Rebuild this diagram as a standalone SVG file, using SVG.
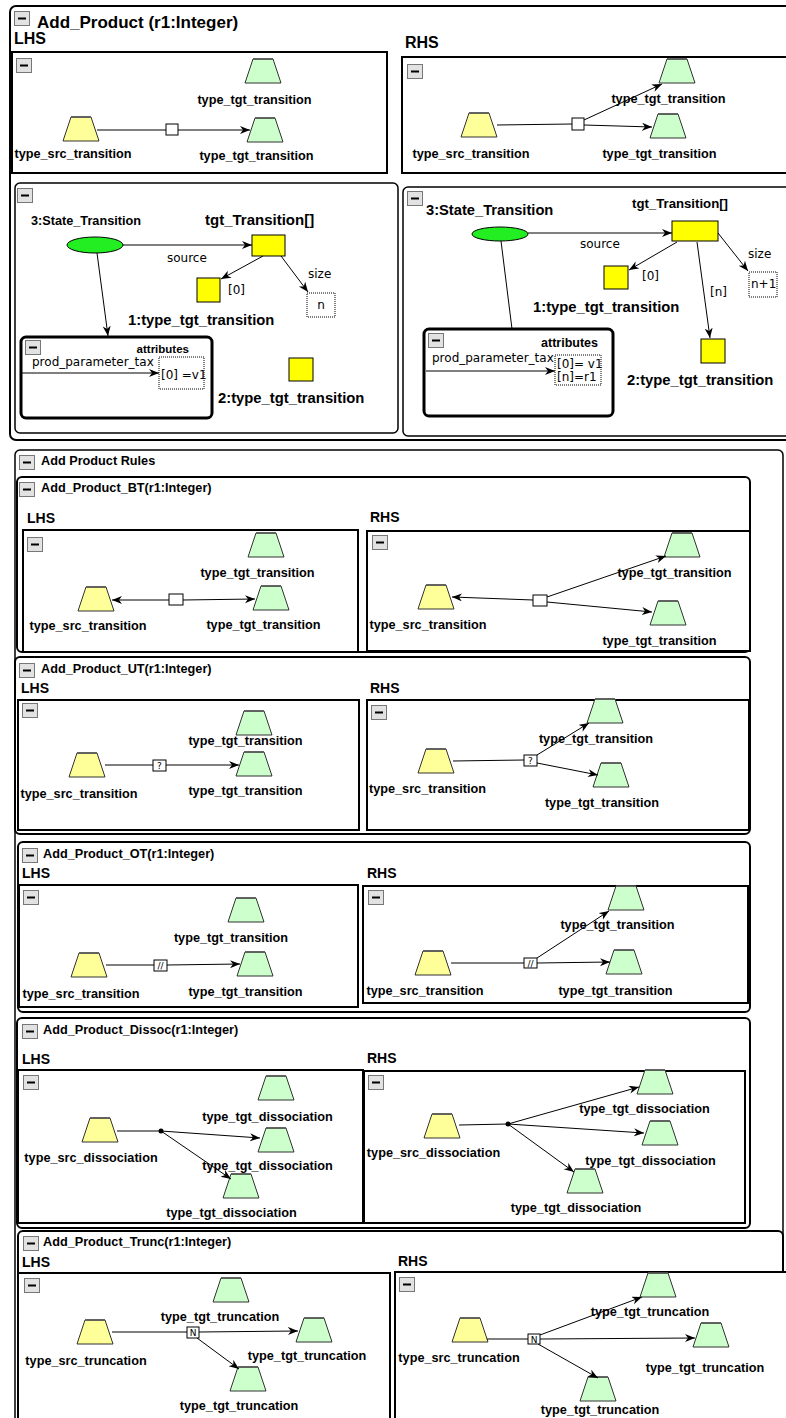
<svg xmlns="http://www.w3.org/2000/svg" width="786" height="1418" viewBox="0 0 786 1418">
  <style>
    .bg { fill: #fff; }
    .frame { fill: #fff; stroke: #000; stroke-width: 2; }
    .panel { fill: #fff; stroke: #000; stroke-width: 1.5; }
    .attr { fill: #fff; stroke: #000; stroke-width: 3; }
    .lbl { font-family: "Liberation Sans", Arial, sans-serif; font-weight: bold; font-size: 12.7px; fill: #000; text-anchor: middle; }
    .ttl { font-family: "Liberation Sans", Arial, sans-serif; font-weight: bold; font-size: 12.7px; fill: #000; }
    .side { font-family: "Liberation Sans", Arial, sans-serif; font-weight: bold; font-size: 14px; fill: #000; }
    .big { font-family: "Liberation Sans", Arial, sans-serif; font-weight: bold; fill: #000; }
    .reg { font-family: "DejaVu Sans", sans-serif; font-size: 12px; fill: #000; }
    .tiny { font-family: "DejaVu Sans", sans-serif; font-size: 9px; fill: #000; text-anchor: middle; }
    .edge { fill: none; stroke: #000; stroke-width: 1; }
    .arr { marker-end: url(#head); }
    .link { fill: #fff; stroke: #000; stroke-width: 1; }
    .dotted { fill: #fff; stroke: #000; stroke-width: 1; stroke-dasharray: 1 1; }
    .obj { fill: #ffff00; stroke: #000; stroke-width: 1; }
    .state { fill: #22ee22; stroke: #000; stroke-width: 1; }
  </style>
  <defs>
    <marker id="head" markerUnits="userSpaceOnUse" markerWidth="12" markerHeight="10" refX="10" refY="4" orient="auto">
      <path d="M0,0 L10,4 L0,8 L3,4 Z" fill="#000"/>
    </marker>
    <g id="tg">
      <polygon points="8,0 28,0 36,24 0,24" fill="#ccffcc" stroke="#333" stroke-width="1"/>
      <line x1="8" y1="0" x2="28" y2="0" stroke="#555" stroke-width="1.6"/>
    </g>
    <g id="ty">
      <polygon points="8,0 28,0 36,24 0,24" fill="#ffff99" stroke="#333" stroke-width="1"/>
      <line x1="8" y1="0" x2="28" y2="0" stroke="#555" stroke-width="1.6"/>
    </g>
    <g id="minus">
      <rect x="0.5" y="0.5" width="15" height="14" fill="#e2e2e2" stroke="#777" stroke-width="1"/>
      <rect x="4" y="6.5" width="8" height="2" fill="#000"/>
    </g>
  </defs>

  <rect class="bg" x="0" y="0" width="786" height="1418"/>

  <!-- ===== Add_Product rule ===== -->
  <g id="add-product">
    <rect class="frame" x="10" y="6" width="800" height="434" rx="6"/>
    <use href="#minus" x="14" y="11"/>
    <text class="big" x="37" y="28" font-size="17">Add_Product (r1:Integer)</text>
    <text class="big" x="14" y="44" font-size="16">LHS</text>
    <text class="big" x="405" y="48" font-size="16">RHS</text>
    <rect class="frame" x="12" y="52" width="375" height="121"/>
    <use href="#minus" x="16" y="58"/>
    <rect class="frame" x="402" y="57" width="400" height="116"/>
    <use href="#minus" x="407" y="64"/>
  </g>

  <g id="a-lhs-tgt1"><use href="#tg" x="245" y="59"/><text class="lbl" x="254.5" y="104">type_tgt_transition</text></g>
  <g id="a-lhs-src"><use href="#ty" x="63" y="117"/><text class="lbl" x="73" y="158">type_src_transition</text></g>
  <g id="a-lhs-tgt2"><use href="#tg" x="247" y="118"/><text class="lbl" x="256.5" y="160">type_tgt_transition</text></g>

  <g id="a-rhs-src"><use href="#ty" x="461" y="113"/><text class="lbl" x="471" y="158">type_src_transition</text></g>
  <g id="a-rhs-tgt1"><use href="#tg" x="659" y="59"/><text class="lbl" x="668.5" y="103">type_tgt_transition</text></g>
  <g id="a-rhs-tgt2"><use href="#tg" x="650" y="114"/><text class="lbl" x="659.5" y="158">type_tgt_transition</text></g>

  <!-- state panels -->
  <g id="state-lhs">
    <rect class="panel" x="15" y="183" width="383" height="250" rx="5"/>
    <use href="#minus" x="17" y="188"/>
  </g>
  <g id="state-lhs-transition">
    <ellipse class="state" cx="95" cy="245" rx="28" ry="8"/>
    <text class="big" x="31" y="225" font-size="12.7">3:State_Transition</text>
  </g>
  <g id="state-lhs-array">
    <rect class="obj" x="252" y="235" width="33" height="21"/>
    <text class="big" x="205" y="225" font-size="15">tgt_Transition[]</text>
  </g>
  <g id="state-lhs-obj1">
    <rect class="obj" x="197" y="278" width="23" height="24"/>
    <text class="big" x="128" y="325" font-size="14.8">1:type_tgt_transition</text>
  </g>
  <g id="state-lhs-size">
    <rect class="dotted" x="307" y="293" width="28" height="24"/>
    <text class="reg" x="321" y="309" text-anchor="middle">n</text>
  </g>
  <g id="state-lhs-obj2">
    <rect class="obj" x="289" y="358" width="24" height="23"/>
    <text class="big" x="218" y="403" font-size="14.8">2:type_tgt_transition</text>
  </g>
  <g id="state-lhs-attributes">
    <rect class="attr" x="21" y="337" width="191" height="81" rx="5"/>
    <use href="#minus" x="25" y="340"/>
    <text class="big" x="189" y="353" font-size="11.5" text-anchor="end">attributes</text>
    <text class="reg" x="32" y="366" font-size="11.5">prod_parameter_tax</text>
    <rect class="dotted" x="159" y="357" width="45" height="32"/>
    <text class="reg" x="161" y="379" font-size="12.5">[0] =v1</text>
  </g>

  <g id="state-rhs">
    <rect class="panel" x="403" y="187" width="400" height="249" rx="5"/>
    <use href="#minus" x="407" y="191"/>
  </g>
  <g id="state-rhs-transition">
    <ellipse class="state" cx="500" cy="234" rx="28" ry="7"/>
    <text class="big" x="426" y="215" font-size="14.7">3:State_Transition</text>
  </g>
  <g id="state-rhs-array">
    <rect class="obj" x="672" y="221" width="46" height="20"/>
    <text class="big" x="632" y="208" font-size="13.2">tgt_Transition[]</text>
  </g>
  <g id="state-rhs-obj1">
    <rect class="obj" x="604" y="266" width="24" height="23"/>
    <text class="big" x="533" y="312" font-size="14.8">1:type_tgt_transition</text>
  </g>
  <g id="state-rhs-obj2">
    <rect class="obj" x="701" y="339" width="24" height="24"/>
    <text class="big" x="627" y="385" font-size="14.8">2:type_tgt_transition</text>
  </g>
  <g id="state-rhs-size">
    <rect class="dotted" x="749" y="272" width="28" height="25"/>
    <text class="reg" x="751" y="288">n+1</text>
  </g>
  <g id="state-rhs-attributes">
    <rect class="attr" x="424" y="329" width="189" height="87" rx="5"/>
    <use href="#minus" x="428" y="333"/>
    <text class="big" x="598" y="347" font-size="12.5" text-anchor="end">attributes</text>
    <text class="reg" x="432" y="362" font-size="11.5">prod_parameter_tax</text>
    <rect class="dotted" x="555" y="355" width="46" height="30"/>
    <text class="reg" x="557" y="368">[0]= v1</text>
    <text class="reg" x="557" y="381">[n]=r1</text>
  </g>

  <!-- ===== Add Product Rules ===== -->
  <g id="rules">
    <rect class="panel" x="15" y="450" width="768" height="1000" rx="5"/>
    <use href="#minus" x="19" y="455"/>
    <text class="ttl" x="41" y="465">Add Product Rules</text>
  </g>

  <!-- BT -->
  <g id="bt">
    <rect class="frame" x="17" y="477" width="733" height="175" rx="5"/>
    <use href="#minus" x="19" y="482"/>
    <text class="ttl" x="41" y="492">Add_Product_BT(r1:Integer)</text>
    <text class="side" x="27" y="523">LHS</text>
    <rect class="frame" x="23" y="530" width="335" height="122"/>
    <use href="#minus" x="27" y="537"/>
    <text class="side" x="370" y="522">RHS</text>
    <rect class="frame" x="367" y="531" width="383" height="120"/>
    <use href="#minus" x="372" y="535"/>
  </g>
  <g id="bt-lhs-tgt1"><use href="#tg" x="248" y="533"/><text class="lbl" x="257.5" y="577">type_tgt_transition</text></g>
  <g id="bt-lhs-src"><use href="#ty" x="78" y="587"/><text class="lbl" x="88" y="630">type_src_transition</text></g>
  <g id="bt-lhs-tgt2"><use href="#tg" x="253" y="586"/><text class="lbl" x="263.5" y="629">type_tgt_transition</text></g>
  <g id="bt-rhs-tgt1"><use href="#tg" x="664" y="533"/><text class="lbl" x="674.5" y="577">type_tgt_transition</text></g>
  <g id="bt-rhs-src"><use href="#ty" x="418" y="585"/><text class="lbl" x="428" y="629">type_src_transition</text></g>
  <g id="bt-rhs-tgt2"><use href="#tg" x="650" y="601"/><text class="lbl" x="659.5" y="645">type_tgt_transition</text></g>

  <!-- UT -->
  <g id="ut">
    <rect class="frame" x="15" y="657" width="735" height="177" rx="5"/>
    <use href="#minus" x="19" y="663"/>
    <text class="ttl" x="41" y="673">Add_Product_UT(r1:Integer)</text>
    <text class="side" x="21" y="693">LHS</text>
    <rect class="frame" x="18" y="700" width="341" height="130"/>
    <use href="#minus" x="22" y="703"/>
    <text class="side" x="370" y="693">RHS</text>
    <rect class="frame" x="367" y="700" width="382" height="130"/>
    <use href="#minus" x="371" y="705"/>
  </g>
  <g id="ut-lhs-tgt1"><use href="#tg" x="236" y="711"/><text class="lbl" x="245.5" y="745">type_tgt_transition</text></g>
  <g id="ut-lhs-src"><use href="#ty" x="69" y="753"/><text class="lbl" x="79" y="798">type_src_transition</text></g>
  <g id="ut-lhs-tgt2"><use href="#tg" x="236" y="752"/><text class="lbl" x="245.5" y="795">type_tgt_transition</text></g>
  <g id="ut-rhs-tgt1"><use href="#tg" x="587" y="699"/><text class="lbl" x="596" y="743">type_tgt_transition</text></g>
  <g id="ut-rhs-src"><use href="#ty" x="418" y="749"/><text class="lbl" x="427.5" y="793">type_src_transition</text></g>
  <g id="ut-rhs-tgt2"><use href="#tg" x="593" y="763"/><text class="lbl" x="602" y="807">type_tgt_transition</text></g>

  <!-- OT -->
  <g id="ot">
    <rect class="frame" x="18" y="842" width="732" height="170" rx="5"/>
    <use href="#minus" x="22" y="848"/>
    <text class="ttl" x="43" y="858">Add_Product_OT(r1:Integer)</text>
    <text class="side" x="22" y="878">LHS</text>
    <rect class="frame" x="19" y="885" width="339" height="122"/>
    <use href="#minus" x="23" y="890"/>
    <text class="side" x="367" y="878">RHS</text>
    <rect class="frame" x="363" y="886" width="385" height="117"/>
    <use href="#minus" x="368" y="890"/>
  </g>
  <g id="ot-lhs-tgt1"><use href="#tg" x="228" y="898"/><text class="lbl" x="231" y="942">type_tgt_transition</text></g>
  <g id="ot-lhs-src"><use href="#ty" x="71" y="953"/><text class="lbl" x="81" y="998">type_src_transition</text></g>
  <g id="ot-lhs-tgt2"><use href="#tg" x="237" y="952"/><text class="lbl" x="245.5" y="996">type_tgt_transition</text></g>
  <g id="ot-rhs-tgt1"><use href="#tg" x="608" y="886"/><text class="lbl" x="617.5" y="929">type_tgt_transition</text></g>
  <g id="ot-rhs-src"><use href="#ty" x="415" y="951"/><text class="lbl" x="425" y="995">type_src_transition</text></g>
  <g id="ot-rhs-tgt2"><use href="#tg" x="606" y="950"/><text class="lbl" x="615.5" y="995">type_tgt_transition</text></g>

  <!-- Dissoc -->
  <g id="dissoc">
    <rect class="frame" x="17" y="1018" width="733" height="210" rx="5"/>
    <use href="#minus" x="22" y="1024"/>
    <text class="ttl" x="43" y="1034">Add_Product_Dissoc(r1:Integer)</text>
    <text class="side" x="22" y="1064">LHS</text>
    <rect class="frame" x="18" y="1070" width="345" height="153"/>
    <use href="#minus" x="23" y="1075"/>
    <text class="side" x="367" y="1063">RHS</text>
    <rect class="frame" x="364" y="1071" width="381" height="152"/>
    <use href="#minus" x="368" y="1075"/>
  </g>
  <g id="dis-lhs-tgt1"><use href="#tg" x="258" y="1076"/><text class="lbl" x="267.5" y="1121">type_tgt_dissociation</text></g>
  <g id="dis-lhs-src"><use href="#ty" x="82" y="1118"/><text class="lbl" x="91" y="1162">type_src_dissociation</text></g>
  <g id="dis-lhs-tgt2"><use href="#tg" x="258" y="1128"/><text class="lbl" x="267.5" y="1170">type_tgt_dissociation</text></g>
  <g id="dis-lhs-tgt3"><use href="#tg" x="223" y="1174"/><text class="lbl" x="231.5" y="1217">type_tgt_dissociation</text></g>
  <g id="dis-rhs-tgt1"><use href="#tg" x="637" y="1070"/><text class="lbl" x="644.5" y="1113">type_tgt_dissociation</text></g>
  <g id="dis-rhs-src"><use href="#ty" x="424" y="1114"/><text class="lbl" x="433.5" y="1157">type_src_dissociation</text></g>
  <g id="dis-rhs-tgt2"><use href="#tg" x="642" y="1121"/><text class="lbl" x="650.5" y="1165">type_tgt_dissociation</text></g>
  <g id="dis-rhs-tgt3"><use href="#tg" x="567" y="1169"/><text class="lbl" x="576" y="1212">type_tgt_dissociation</text></g>

  <!-- Trunc -->
  <g id="trunc">
    <rect class="frame" x="18" y="1231" width="765" height="260" rx="5"/>
    <use href="#minus" x="23" y="1236"/>
    <text class="ttl" x="43" y="1246">Add_Product_Trunc(r1:Integer)</text>
    <text class="side" x="22" y="1267">LHS</text>
    <rect class="frame" x="18" y="1273" width="372" height="200"/>
    <use href="#minus" x="24" y="1278"/>
    <text class="side" x="398" y="1266">RHS</text>
    <rect class="frame" x="395" y="1272" width="400" height="200"/>
    <use href="#minus" x="399" y="1277"/>
  </g>
  <g id="tr-lhs-tgt1"><use href="#tg" x="213" y="1278"/><text class="lbl" x="220" y="1321">type_tgt_truncation</text></g>
  <g id="tr-lhs-src"><use href="#ty" x="77" y="1320"/><text class="lbl" x="86" y="1365">type_src_truncation</text></g>
  <g id="tr-lhs-tgt2"><use href="#tg" x="296" y="1318"/><text class="lbl" x="307" y="1360">type_tgt_truncation</text></g>
  <g id="tr-lhs-tgt3"><use href="#tg" x="230" y="1367"/><text class="lbl" x="239" y="1410">type_tgt_truncation</text></g>
  <g id="tr-rhs-tgt1"><use href="#tg" x="640" y="1273"/><text class="lbl" x="650" y="1316">type_tgt_truncation</text></g>
  <g id="tr-rhs-src"><use href="#ty" x="452" y="1318"/><text class="lbl" x="459" y="1362">type_src_truncation</text></g>
  <g id="tr-rhs-tgt2"><use href="#tg" x="693" y="1323"/><text class="lbl" x="705" y="1372">type_tgt_truncation</text></g>
  <g id="tr-rhs-tgt3"><use href="#tg" x="580" y="1377"/><text class="lbl" x="600" y="1414">type_tgt_truncation</text></g>

  <!-- ===== connectors ===== -->
  <g id="connectors">
    <!-- Add_Product LHS/RHS -->
    <line class="edge" x1="97" y1="130" x2="166" y2="130"/>
    <line class="edge arr" x1="178" y1="130" x2="250" y2="130"/>
    <line class="edge" x1="497" y1="125" x2="572" y2="124"/>
    <line class="edge arr" x1="584" y1="120" x2="662" y2="84"/>
    <line class="edge arr" x1="584" y1="125" x2="652" y2="127"/>
    <!-- state panel LHS -->
    <line class="edge arr" x1="123" y1="245" x2="252" y2="245"/>
    <text class="reg" x="167" y="262">source</text>
    <line class="edge arr" x1="263" y1="256" x2="221" y2="279"/>
    <text class="reg" x="228" y="294">[0]</text>
    <line class="edge arr" x1="281" y1="256" x2="308" y2="292"/>
    <text class="reg" x="308" y="278">size</text>
    <line class="edge arr" x1="97" y1="253" x2="108" y2="336"/>
    <line class="edge arr" x1="22" y1="373" x2="159" y2="373"/>
    <!-- state panel RHS -->
    <line class="edge arr" x1="528" y1="233" x2="672" y2="233"/>
    <text class="reg" x="580" y="248">source</text>
    <line class="edge arr" x1="677" y1="242" x2="629" y2="270"/>
    <text class="reg" x="642" y="280">[0]</text>
    <line class="edge arr" x1="697" y1="242" x2="710" y2="338"/>
    <text class="reg" x="710" y="296">[n]</text>
    <line class="edge arr" x1="718" y1="233" x2="748" y2="271"/>
    <text class="reg" x="748" y="258">size</text>
    <line class="edge" x1="501" y1="241" x2="512" y2="329"/>
    <line class="edge arr" x1="426" y1="371" x2="555" y2="371"/>
    <!-- BT -->
    <line class="edge arr" x1="169" y1="600" x2="112" y2="600"/>
    <line class="edge arr" x1="183" y1="600" x2="255" y2="599"/>
    <line class="edge arr" x1="533" y1="600" x2="452" y2="597"/>
    <line class="edge arr" x1="547" y1="597" x2="666" y2="556"/>
    <line class="edge arr" x1="547" y1="602" x2="652" y2="612"/>
    <!-- UT -->
    <line class="edge" x1="105" y1="765" x2="153" y2="765"/>
    <line class="edge arr" x1="166" y1="765" x2="239" y2="765"/>
    <line class="edge" x1="453" y1="761" x2="524" y2="760"/>
    <line class="edge arr" x1="537" y1="755" x2="589" y2="723"/>
    <line class="edge arr" x1="537" y1="763" x2="598" y2="775"/>
    <!-- OT -->
    <line class="edge" x1="106" y1="965" x2="154" y2="965"/>
    <line class="edge arr" x1="167" y1="965" x2="240" y2="964"/>
    <line class="edge" x1="451" y1="963" x2="524" y2="963"/>
    <line class="edge arr" x1="537" y1="958" x2="609" y2="911"/>
    <line class="edge arr" x1="537" y1="963" x2="610" y2="962"/>
    <!-- Dissoc -->
    <line class="edge" x1="117" y1="1131" x2="161" y2="1131"/>
    <line class="edge arr" x1="161" y1="1131" x2="260" y2="1138"/>
    <line class="edge arr" x1="161" y1="1131" x2="231" y2="1179"/>
    <line class="edge" x1="459" y1="1125" x2="508" y2="1124"/>
    <line class="edge arr" x1="508" y1="1124" x2="639" y2="1087"/>
    <line class="edge arr" x1="508" y1="1124" x2="644" y2="1133"/>
    <line class="edge arr" x1="508" y1="1124" x2="574" y2="1172"/>
    <!-- Trunc -->
    <line class="edge" x1="112" y1="1332" x2="187" y2="1332"/>
    <line class="edge arr" x1="199" y1="1332" x2="298" y2="1331"/>
    <line class="edge arr" x1="197" y1="1338" x2="239" y2="1369"/>
    <line class="edge" x1="487" y1="1339" x2="528" y2="1339"/>
    <line class="edge arr" x1="540" y1="1335" x2="642" y2="1297"/>
    <line class="edge arr" x1="540" y1="1339" x2="695" y2="1338"/>
    <line class="edge arr" x1="538" y1="1344" x2="598" y2="1378"/>

    <!-- link junctions -->
    <rect class="link" x="166" y="124" width="12" height="11"/>
    <rect class="link" x="572" y="118" width="12" height="12"/>
    <rect class="link" x="169" y="594" width="14" height="11"/>
    <rect class="link" x="533" y="595" width="14" height="11"/>
    <rect class="link" x="153" y="760" width="13" height="11"/>
    <text class="tiny" x="159.5" y="769">?</text>
    <rect class="link" x="524" y="755" width="13" height="11"/>
    <text class="tiny" x="530.5" y="764">?</text>
    <rect class="link" x="154" y="960" width="13" height="11"/>
    <text class="tiny" x="160.5" y="969">//</text>
    <rect class="link" x="524" y="958" width="13" height="10"/>
    <text class="tiny" x="530.5" y="966.5">//</text>
    <circle cx="161" cy="1131" r="2.5" fill="#000"/>
    <circle cx="508" cy="1124" r="2.5" fill="#000"/>
    <rect class="link" x="187" y="1327" width="12" height="11"/>
    <text class="tiny" x="193" y="1336">N</text>
    <rect class="link" x="528" y="1334" width="12" height="10"/>
    <text class="tiny" x="534" y="1342.5">N</text>
  </g>
</svg>
